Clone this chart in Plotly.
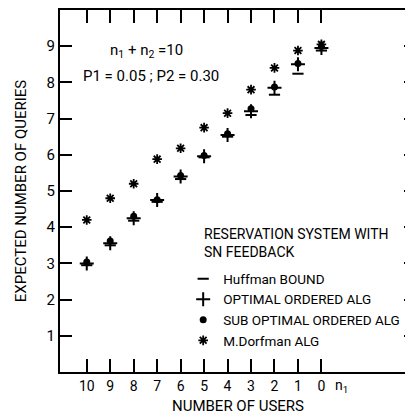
import plotly.graph_objects as go

n1 = [10, 9, 8, 7, 6, 5, 4, 3, 2, 1, 0]
huffman = [2.95, 3.5, 4.18, 4.7, 5.33, 5.93, 6.5, 7.1, 7.66, 8.24, 8.88]
optimal = [3.0, 3.56, 4.25, 4.75, 5.4, 5.96, 6.55, 7.2, 7.85, 8.5, 8.95]
suboptimal = [3.04, 3.62, 4.3, 4.76, 5.43, 5.98, 6.58, 7.27, 7.87, 8.52, 8.99]
dorfman = [4.2, 4.8, 5.2, 5.88, 6.18, 6.75, 7.15, 7.8, 8.4, 8.88, 9.05]
y_ticks = [1, 2, 3, 4, 5, 6, 7, 8, 9]

FONT = "Roboto, Liberation Sans, sans-serif"
BLACK = "black"

fig = go.Figure()
fig.add_trace(go.Scatter(
    x=n1, y=huffman, mode="markers", name="Huffman BOUND",
    marker=dict(symbol="line-ew", size=8, line=dict(width=2, color=BLACK), color=BLACK),
))
fig.add_trace(go.Scatter(
    x=n1, y=optimal, mode="markers", name="OPTIMAL ORDERED ALG",
    marker=dict(symbol="cross-thin", size=10, line=dict(width=2, color=BLACK), color=BLACK),
))
fig.add_trace(go.Scatter(
    x=n1, y=suboptimal, mode="markers", name="SUB OPTIMAL ORDERED ALG",
    marker=dict(symbol="circle", size=7, color=BLACK, line=dict(width=0)),
))
fig.add_trace(go.Scatter(
    x=n1, y=dorfman, mode="markers", name="M.Dorfman ALG",
    marker=dict(symbol="asterisk", size=8, line=dict(width=1.8, color=BLACK), color=BLACK),
))

fig.update_layout(
    width=410, height=411,
    margin=dict(l=52, r=0, t=1, b=47),
    paper_bgcolor="white", plot_bgcolor="white",
    font=dict(family=FONT, size=14, color=BLACK),
    showlegend=True,
    legend=dict(
        x=0.346, y=0.30, xanchor="left", yanchor="top",
        bgcolor="rgba(0,0,0,0)", borderwidth=0,
        font=dict(size=13.5), itemwidth=30, tracegroupgap=7,
    ),
    xaxis=dict(
        range=[11.14, -4.03], tickmode="array", tickvals=n1, ticktext=[str(v) for v in n1],
        ticks="inside", ticklen=13, tickwidth=1.5, tickcolor=BLACK,
        showline=True, linecolor=BLACK, linewidth=2, mirror="ticks",
        showgrid=False, zeroline=False,
        title=dict(text="NUMBER OF USERS", font=dict(size=15), standoff=8),
        tickfont=dict(size=14),
    ),
    yaxis=dict(
        range=[0, 10], tickmode="array", tickvals=y_ticks, ticktext=[str(v) for v in y_ticks],
        ticks="inside", ticklen=12, tickwidth=1.5, tickcolor=BLACK,
        showline=True, linecolor=BLACK, linewidth=2, mirror="ticks",
        showgrid=False, zeroline=False,
        title=dict(text="EXPECTED NUMBER OF QUERIES", font=dict(size=15), standoff=16),
        tickfont=dict(size=15),
    ),
    annotations=[
        dict(text="n<sub>1</sub> + n<sub>2</sub> =10", x=0.243, y=0.887, xref="paper", yref="paper",
             showarrow=False, xanchor="center", yanchor="middle", font=dict(size=15)),
        dict(text="P1 = 0.05 ; P2 = 0.30", x=0.257, y=0.818, xref="paper", yref="paper",
             showarrow=False, xanchor="center", yanchor="middle", font=dict(size=15)),
        dict(text="n<sub>1</sub>", x=0.79, y=0, xref="paper", yref="paper", yshift=-14,
             showarrow=False, xanchor="center", yanchor="middle", font=dict(size=14)),
        dict(text="RESERVATION SYSTEM WITH<br>SN FEEDBACK", x=0.399, y=0.355,
             xref="paper", yref="paper", showarrow=False, xanchor="left", yanchor="middle",
             align="left", font=dict(size=14)),
    ],
)

fig.write_html("out.html")
